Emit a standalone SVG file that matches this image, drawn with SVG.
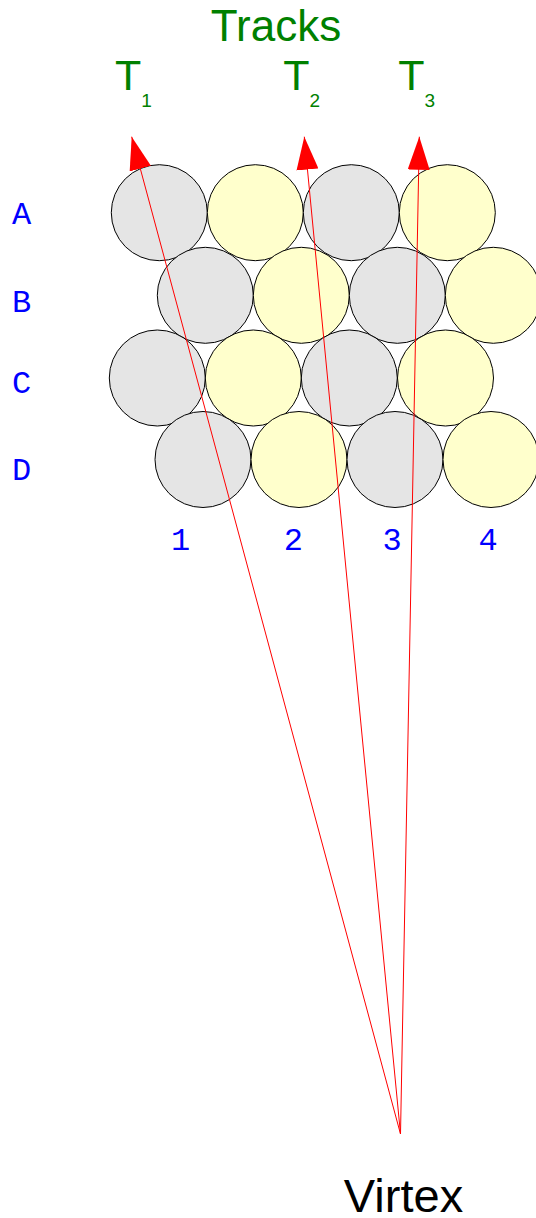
<svg xmlns="http://www.w3.org/2000/svg" width="536" height="1218" viewBox="0 0 536 1218">
<style>
.g{fill:#e5e5e5;stroke:#000;stroke-width:1}
.y{fill:#ffffcc;stroke:#000;stroke-width:1}
.lbl{font-family:"Liberation Mono",monospace;fill:#0000ff;font-size:32px}
.trk{font-family:"Liberation Sans",Arial,sans-serif;fill:#008000}
.trk2{font-family:"Liberation Sans",Arial,sans-serif;fill:#008000;font-size:43px}
.sub{font-size:19px}
.ln{stroke:#ff0000;stroke-width:1;fill:none;marker-end:url(#ah)}
</style>
<defs>
<marker id="ah" viewBox="0 0 33 22" refX="33" refY="11" markerWidth="33" markerHeight="22" markerUnits="userSpaceOnUse" orient="auto">
<path d="M0,0 L33,11 L0,22 z" fill="#ff0000"/>
</marker>
</defs>
<rect width="536" height="1218" fill="#fff"/>
<g id="title"><text class="trk" x="276" y="41" font-size="44" text-anchor="middle">Tracks</text></g>
<g id="T1"><text class="trk2" x="115" y="90">T<tspan class="sub" dy="16.5">1</tspan></text></g>
<g id="T2"><text class="trk2" x="283.3" y="90">T<tspan class="sub" dy="16.5">2</tspan></text></g>
<g id="T3"><text class="trk2" x="398.3" y="90">T<tspan class="sub" dy="16.5">3</tspan></text></g>
<g id="rowA">
<circle class="g" cx="159.3" cy="212.7" r="48"/>
<circle class="y" cx="255.3" cy="212.7" r="48"/>
<circle class="g" cx="351.3" cy="212.7" r="48"/>
<circle class="y" cx="447.3" cy="212.7" r="48"/>
</g>
<g id="rowB">
<circle class="g" cx="205.3" cy="295.3" r="48"/>
<circle class="y" cx="301.3" cy="295.3" r="48"/>
<circle class="g" cx="397.3" cy="295.3" r="48"/>
<circle class="y" cx="493.3" cy="295.3" r="48"/>
</g>
<g id="rowC">
<circle class="g" cx="157.3" cy="378" r="48"/>
<circle class="y" cx="253.3" cy="378" r="48"/>
<circle class="g" cx="349.3" cy="378" r="48"/>
<circle class="y" cx="445.5" cy="378" r="48"/>
</g>
<g id="rowD">
<circle class="g" cx="203" cy="459.5" r="48"/>
<circle class="y" cx="299" cy="459.5" r="48"/>
<circle class="g" cx="395" cy="459.5" r="48"/>
<circle class="y" cx="491" cy="459.5" r="48"/>
</g>
<g id="rowLabels">
<text class="lbl" x="12" y="224">A</text>
<text class="lbl" x="12" y="311.5">B</text>
<text class="lbl" x="12" y="393">C</text>
<text class="lbl" x="12" y="479.5">D</text>
</g>
<g id="colLabels">
<text class="lbl" x="180.5" y="550" text-anchor="middle">1</text>
<text class="lbl" x="293.3" y="550" text-anchor="middle">2</text>
<text class="lbl" x="392.2" y="550" text-anchor="middle">3</text>
<text class="lbl" x="488" y="550" text-anchor="middle">4</text>
</g>
<g id="connectors">
<line class="ln" x1="400.5" y1="1134" x2="131.7" y2="136.7"/>
<line class="ln" x1="400.5" y1="1134" x2="304.3" y2="136.7"/>
<line class="ln" x1="400.5" y1="1134" x2="419.3" y2="136.7"/>
</g>
<g id="vertex"><text x="403.5" y="1212" font-family="Liberation Sans,Arial,sans-serif" font-size="47" text-anchor="middle" fill="#000">Virtex</text></g>
</svg>
